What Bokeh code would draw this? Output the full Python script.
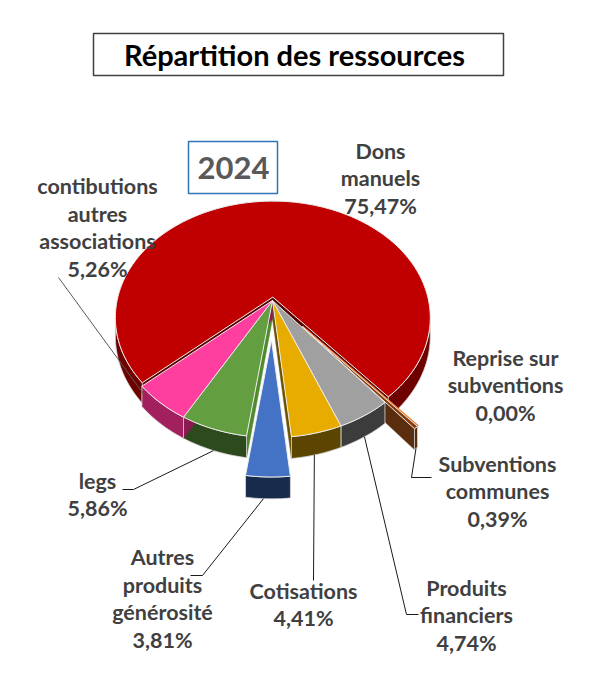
import numpy as np
from bokeh.plotting import figure
from bokeh.models import Range1d, ColumnDataSource
from bokeh.core.properties import value
from bokeh.embed import file_html
from bokeh.resources import INLINE

# --- data -------------------------------------------------------------
title = "Répartition des ressources"
year = "2024"
names = ["Dons\nmanuels", "Reprise sur\nsubventions", "Subventions\ncommunes",
         "Produits\nfinanciers", "Cotisations", "Autres\nproduits\ngénérosité",
         "legs", "contibutions\nautres\nassociations"]
values = [75.47, 0.00, 0.39, 4.74, 4.41, 3.81, 5.86, 5.26]

# --- style -------------------------------------------------------------
top_colors = ["#C00000", "#ED7D31", "#843C0C", "#A0A0A0", "#E8AC00", "#4472C4", "#639E40", "#FF3FA0"]
side_colors = ["#6E0000", "#B85A1E", "#57280A", "#3C3C3C", "#5C4500", "#172B4D", "#2D4A1C", "#A3205F"]
face_colors = ["#5A0000", "#B85A1E", "#5A2D0E", "#333333", "#6B5200", "#14264A", "#4F8A2F", "#8A1A50"]
explode = [0.03, 0.30, 0.30, 0, 0, 0.35, 0, 0]

# label block centres and leader paths (screen pixels)
label_pos = [(380, 178), (505, 385), (497, 491), (466, 615), (303, 604),
             (162, 598), (97, 494), (97, 227)]
leader_pts = [None, None, [(431, 477), (411, 477)], [(418, 614), (406, 614)],
              [(313, 580)], [(190, 575), (202, 575)], [(122, 489), (133, 489)],
              [(58, 277)]]
leader_anchor = [None, None, (0.5, 1.0), (0.5, 1.0), (0.55, 1.0), (0.6, 1.0),
                 (0.5, 1.0), (0.95, 0.3)]

START = 138.0
CX, CY, A, B, K, C = 272.0, 300.0, 112.9, 155.0, 0.176, 18.0


def pt(r, th, lev, off):
    X, Z = r * np.cos(th), r * np.sin(th)
    s = 1.0 / (1.0 - K * Z)
    return (CX + B * X * s + off[0], CY + (A * Z + C * lev) * s + off[1])


def area(poly):
    xs = [q[0] for q in poly]
    ys = [q[1] for q in poly]
    return sum(xs[i] * ys[(i + 1) % len(xs)] - xs[(i + 1) % len(xs)] * ys[i] for i in range(len(xs)))


total = sum(values)
bounds = []
a0 = START
for v in values:
    a1 = a0 + 360.0 * v / total
    bounds.append((np.radians(a0), np.radians(a1)))
    a0 = a1

sides, tops, geo = {}, {}, {}
for i, v in enumerate(values):
    th0, th1 = bounds[i]
    thm = (th0 + th1) / 2
    off = (B * explode[i] * np.cos(thm), A * explode[i] * np.sin(thm))
    geo[i] = off
    n = max(2, int(np.degrees(th1 - th0) / 1.5) + 2)
    ts = np.linspace(th0, th1, n)
    top = [pt(1, t, 0, off) for t in ts]
    bot = [pt(1, t, 1, off) for t in ts]
    apT, apB = pt(0, 0, 0, off), pt(0, 0, 1, off)
    polys = []
    if v > 0:
        for face in ([apT, top[0], bot[0], apB], [top[-1], apT, apB, bot[-1]]):
            if area(face) < 0:
                polys.append((face, face_colors[i], face_colors[i], 0.5))
        run = []
        for j in range(n - 1):
            quad = [top[j], top[j + 1], bot[j + 1], bot[j]]
            if area(quad) < 0:
                run.append(j)
            elif run:
                pts = top[run[0]:run[-1] + 2] + bot[run[0]:run[-1] + 2][::-1]
                polys.append((pts, side_colors[i], "#D9D9D9", 0.8))
                run = []
        if run:
            pts = top[run[0]:run[-1] + 2] + bot[run[0]:run[-1] + 2][::-1]
            polys.append((pts, side_colors[i], "#D9D9D9", 0.8))
        tops[i] = [([apT] + top, top_colors[i], "#EDEDED", 1.0)]
    else:
        tops[i] = [([apT, top[0], top[-1]], top_colors[i], top_colors[i], 2.0)]
    sides[i] = polys

# painter's order: back slice, exploded sides, other sides, other tops, exploded tops
exploded = [i for i in range(1, len(values)) if explode[i] > 0.1]
others = [i for i in range(1, len(values)) if explode[i] <= 0.1]
order = sides[0] + tops[0]
for i in exploded:
    order += sides[i]
for i in others:
    order += sides[i]
for i in others:
    order += tops[i]
for i in exploded:
    order += tops[i]

src = ColumnDataSource(dict(
    xs=[[q[0] for q in o[0]] for o in order],
    ys=[[q[1] for q in o[0]] for o in order],
    fill=[o[1] for o in order],
    line=[o[2] for o in order],
    lw=[o[3] for o in order],
))

p = figure(width=581, height=684, x_range=Range1d(0, 581), y_range=Range1d(684, 0),
           output_backend="svg", toolbar_location=None, tools="",
           x_axis_type=None, y_axis_type=None, min_border=0)
p.grid.visible = False
p.outline_line_color = None
p.background_fill_color = "white"

p.patches("xs", "ys", source=src, fill_color="fill", line_color="line", line_width="lw")

# leader lines
lx, ly, lc = [], [], []
for i in range(len(values)):
    if leader_pts[i] is None:
        continue
    th0, th1 = bounds[i]
    f, lev = leader_anchor[i]
    ax, ay = pt(1, th0 + f * (th1 - th0), lev, geo[i])
    lx.append([q[0] for q in leader_pts[i]] + [ax])
    ly.append([q[1] for q in leader_pts[i]] + [ay])
    lc.append("#1A1A1A" if len(leader_pts[i]) > 1 or i != len(values) - 1 else "#595959")
p.multi_line(lx, ly, line_color=lc, line_width=1)

# labels
texts = [f"{n}\n{v:.2f}".replace(".", ",") + "%" for n, v in zip(names, values)]
p.text([q[0] for q in label_pos], [q[1] for q in label_pos], text=texts,
       text_align="center", text_baseline="middle", text_font=value("Lato"),
       text_font_style="bold", text_font_size="21.5px", text_color="#404040",
       text_line_height=1.07)

# title box
p.quad(left=[93], right=[503], top=[33], bottom=[75], fill_color=None,
       line_color="#404040", line_width=1.5)
p.text([294], [54], text=[title], text_align="center", text_baseline="middle",
       text_font=value("Lato"), text_font_style="bold", text_font_size="29px",
       text_color="black")

# year box
p.quad(left=[188], right=[277], top=[141], bottom=[193], fill_color=None,
       line_color="#2E75B6", line_width=1.5)
p.text([233], [167], text=[year], text_align="center", text_baseline="middle",
       text_font=value("Lato"), text_font_style="bold", text_font_size="31px",
       text_color="#595959")

open("out.html", "w").write(file_html(p, INLINE))
